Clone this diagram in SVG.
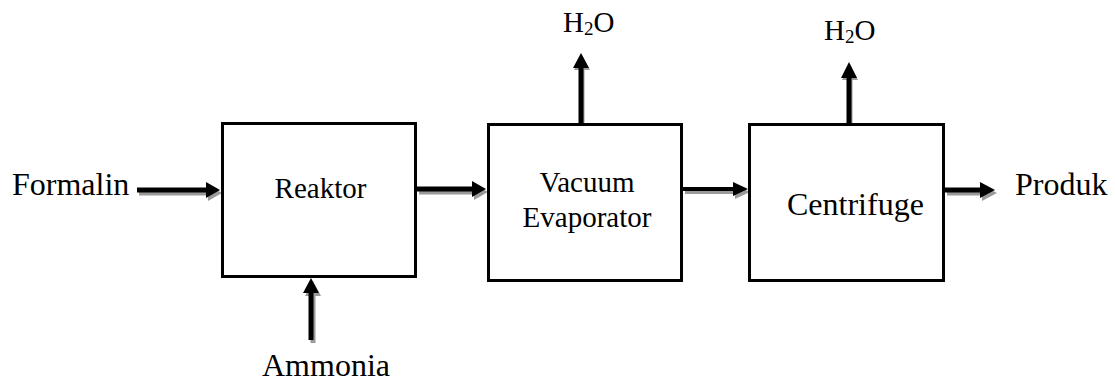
<svg xmlns="http://www.w3.org/2000/svg" width="1115" height="385" viewBox="0 0 1115 385">
<defs>
<style>
.box{fill:#fff;stroke:#000;stroke-width:3}
.t{fill:#000}
.sh{fill:#9a9a9a}
.ar{fill:#000}
</style>
</defs>
<rect width="1115" height="385" fill="#fff"/>
<g id="connectors">
  <g class="sh" transform="translate(2,3)">
    <path d="M137,187.5 H206 V182 L220,190 L206,198 V192.5 H137 Z"/>
    <path d="M417,186.5 H472 V181 L486,189 L472,197 V191.5 H417 Z"/>
    <path d="M683,187 H733 V182 L748,189 L733,196 V191 H683 Z"/>
    <path d="M945,187.5 H980 V182 L995,190 L980,198 V192.5 H945 Z"/>
    <path d="M308.5,340 V293 H303 L311,278 L319,293 H313.5 V340 Z"/>
  </g>
  <g class="sh" transform="translate(1,2)">
    <path d="M578.5,123 V68 H573 L581,53 L589,68 H583.5 V123 Z"/>
    <path d="M846.5,123 V78 H841 L849,62 L857,78 H851.5 V123 Z"/>
  </g>
  <g class="ar">
    <path d="M137,187.5 H206 V182 L220,190 L206,198 V192.5 H137 Z"/>
    <path d="M417,186.5 H472 V181 L486,189 L472,197 V191.5 H417 Z"/>
    <path d="M683,187 H733 V182 L748,189 L733,196 V191 H683 Z"/>
    <path d="M945,187.5 H980 V182 L995,190 L980,198 V192.5 H945 Z"/>
    <path d="M308.5,340 V293 H303 L311,278 L319,293 H313.5 V340 Z"/>
    <path d="M578.5,123 V68 H573 L581,53 L589,68 H583.5 V123 Z"/>
    <path d="M846.5,123 V78 H841 L849,62 L857,78 H851.5 V123 Z"/>
  </g>
</g>
<g font-family="'Liberation Serif', 'DejaVu Serif', serif">
<g id="reaktor">
  <rect class="box" x="222.5" y="123.5" width="193" height="153"/>
  <text class="t" x="320.5" y="198" font-size="29" text-anchor="middle">Reaktor</text>
</g>
<g id="evaporator">
  <rect class="box" x="488.5" y="124.5" width="193" height="156"/>
  <text class="t" x="587" y="192" font-size="29" text-anchor="middle">Vacuum</text>
  <text class="t" x="587" y="227" font-size="29" text-anchor="middle">Evaporator</text>
</g>
<g id="centrifuge">
  <rect class="box" x="749.5" y="124.5" width="194" height="156"/>
  <text class="t" x="787" y="215" font-size="32">Centrifuge</text>
</g>
<g id="formalin">
  <text class="t" x="12" y="195" font-size="32">Formalin</text>
</g>
<g id="ammonia">
  <text class="t" x="262" y="376" font-size="32">Ammonia</text>
</g>
<g id="produk">
  <text class="t" x="1015" y="195" font-size="32">Produk</text>
</g>
<g id="h2o-1">
  <text class="t" x="563" y="32" font-size="29">H<tspan font-size="19" dy="3">2</tspan><tspan dy="-3">O</tspan></text>
</g>
<g id="h2o-2">
  <text class="t" x="824" y="40" font-size="29">H<tspan font-size="19" dy="3">2</tspan><tspan dy="-3">O</tspan></text>
</g>
</g>
</svg>
